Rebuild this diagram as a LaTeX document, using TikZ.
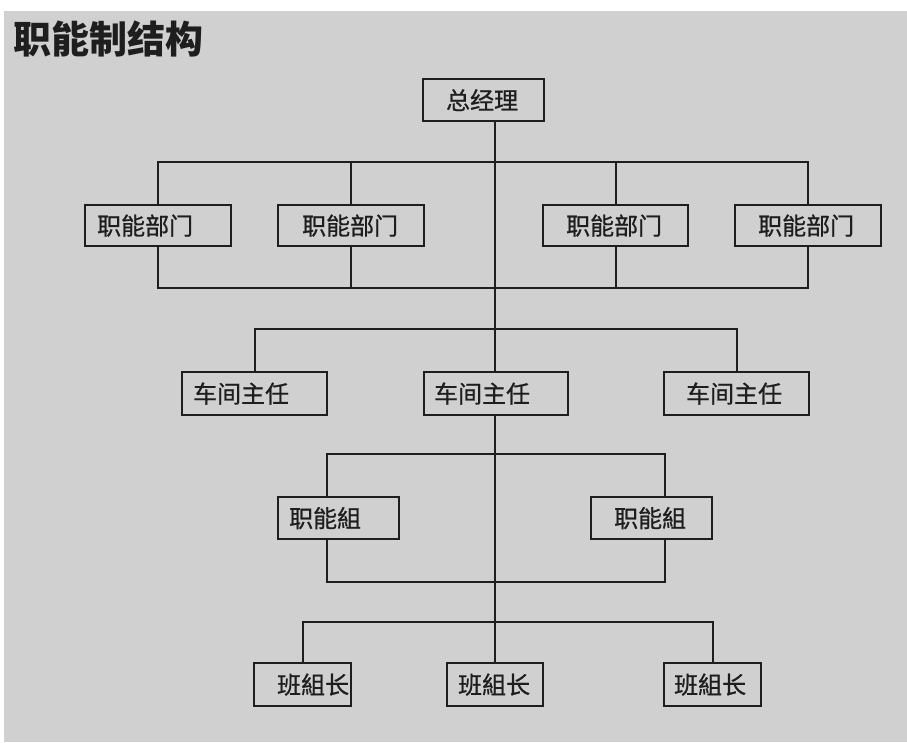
\documentclass[tikz,border=0pt]{standalone}
\usepackage{fontspec}
\newfontfamily\cjk{Noto Sans CJK SC}
\newfontfamily\cjkfb[FakeBold=0.8]{Noto Sans CJK SC}
\usetikzlibrary{calc}
\definecolor{bg}{HTML}{D0D0D0}
\definecolor{ink}{HTML}{1E1E1E}
\tikzset{
  box/.style n args={2}{draw=ink, line width=2.2pt, inner xsep=0pt, inner ysep=0pt,
    text width=#1, minimum height=#2, align=left, anchor=north west,
    font=\cjkfb\fontsize{24}{27}\selectfont, text=ink},
  wire/.style={draw=ink, line width=2.2pt}
}
\begin{document}
\begin{tikzpicture}[x=1pt,y=-1pt]
\useasboundingbox (0,0) rectangle (907,742);
\fill[white] (0,0) rectangle (907,742);
\fill[bg] (4,11) rectangle (907,742);
\node[anchor=west, font=\cjk\bfseries\fontsize{38}{41}\selectfont, text=ink, inner sep=0pt] (title) at (13,39) {职能制结构};

\node[box={121pt}{42pt}] (gm) at (422,78) {\hspace*{23pt}总经理};

\node[box={146pt}{41pt}] (f1) at (84,204) {\hspace*{12pt}职能部门};
\node[box={146pt}{41pt}] (f2) at (277,204) {\hspace*{24pt}职能部门};
\node[box={145pt}{41pt}] (f3) at (542,204) {\hspace*{23pt}职能部门};
\node[box={146pt}{41pt}] (f4) at (734,204) {\hspace*{23pt}职能部门};

\node[box={145pt}{43pt}] (c1) at (181,371) {\hspace*{11pt}车间主任};
\node[box={144pt}{43pt}] (c2) at (423,371) {\hspace*{10pt}车间主任};
\node[box={145pt}{43pt}] (c3) at (663,371) {\hspace*{22pt}车间主任};

\node[box={121pt}{42pt}] (g1) at (277,496) {\hspace*{11pt}职能組};
\node[box={121pt}{42pt}] (g2) at (590,496) {\hspace*{23pt}职能組};

\node[box={97pt}{43pt}] (b1) at (253,662) {\hspace*{23pt}班組长};
\node[box={96pt}{43pt}] (b2) at (446,662) {\hspace*{11pt}班組长};
\node[box={97pt}{43pt}] (b3) at (663,662) {\hspace*{10pt}班組长};

% trunk
\draw[wire] (b2.north |- gm.south) -- (b2.north |- c2.north);
\draw[wire] (b2.north |- c2.south) -- (b2.north);
% functional departments
\draw[wire] (f1.north) -- ++(0,-42) -| (f4.north);
\draw[wire] (f2.north) -- ++(0,-42);
\draw[wire] (f3.north) -- ++(0,-42);
\draw[wire] (f1.south) -- ++(0,41) -| (f4.south);
\draw[wire] (f2.south) -- ++(0,41);
\draw[wire] (f3.south) -- ++(0,41);
% workshop directors
\draw[wire] (c1.north) -- ++(0,-42) -| (c3.north);
% functional groups
\draw[wire] ([xshift=-11.5pt]g1.north) -- ++(0,-42) -| ([xshift=13pt]g2.north);
\draw[wire] ([xshift=-11.5pt]g1.south) -- ++(0,42) -| ([xshift=13pt]g2.south);
% team leaders
\draw[wire] (b1.north) -- ++(0,-40) -| (b3.north);
\end{tikzpicture}
\end{document}
